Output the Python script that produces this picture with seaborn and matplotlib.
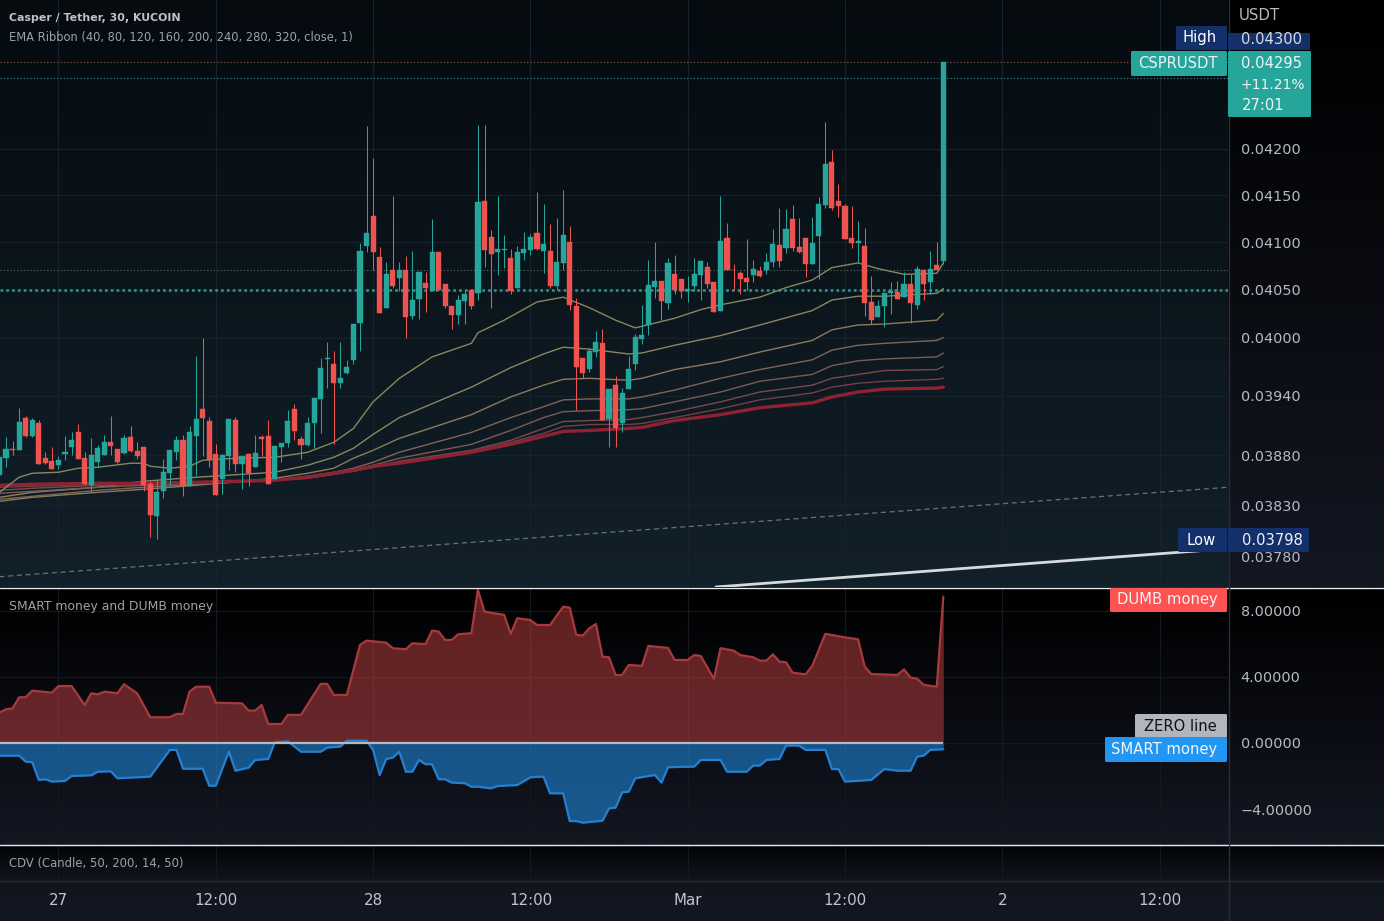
import numpy as np
import matplotlib
matplotlib.use("Agg")
import matplotlib.pyplot as plt
from matplotlib.patches import FancyBboxPatch
from matplotlib.ticker import NullFormatter, NullLocator
import seaborn as sns

W, H = 1384, 921
UNIT = 1e-5  # prices below are listed in units of 0.00001 USDT

OPEN = [3860,3877,3886,3885,3918,3899,3913,3877,3874,3870,
        3881,3888,3903,3877,3850,3873,3880,3893,3886,3882,
        3898,3884,3888,3851,3820,3844,3862,3883,3895,3849,
        3899,3927,3915,3881,3856,3879,3916,3871,3881,3868,
        3898,3899,3856,3888,3892,3927,3896,3890,3913,3937,
        3978,3973,3953,3963,3977,4015,4096,4128,4084,4031,
        4071,4062,4070,4022,4040,4057,4048,4090,4056,4033,
        4023,4038,4050,4046,4144,4105,4090,4092,4083,4052,
        4088,4092,4110,4091,4091,4054,4078,4100,4033,3979,
        3968,3985,3994,3917,3951,3913,3947,3973,3998,4013,
        4053,4059,4036,4066,4061,4048,4054,4065,4074,4058,
        4028,4104,4071,4067,4062,4065,4069,4071,4079,4097,
        4094,4125,4095,4104,4077,4106,4140,4186,4144,4138,
        4104,4099,4096,4037,4021,4033,4046,4047,4042,4056,
        4034,4071,4058,4076,4080]
HIGH = [3878,3898,3894,3928,3920,3918,3916,3883,3888,3879,
        3899,3903,3912,3883,3897,3890,3900,3920,3886,3900,
        3909,3893,3888,3854,3855,3876,3885,3899,3900,3909,
        3981,4000,3919,3891,3881,3917,3919,3879,3882,3900,
        3900,3916,3889,3892,3926,3932,3899,3919,3938,3979,
        3995,3986,3995,3977,4014,4099,4225,4190,4095,4079,
        4149,4079,4085,4091,4068,4068,4125,4090,4056,4033,
        4044,4050,4051,4226,4226,4113,4149,4107,4093,4096,
        4111,4109,4154,4141,4119,4126,4156,4117,4041,3979,
        3989,4007,4009,3947,3960,3948,3981,4004,4034,4081,
        4100,4059,4083,4086,4061,4064,4083,4080,4079,4058,
        4149,4120,4077,4069,4103,4081,4075,4088,4114,4136,
        4135,4140,4126,4104,4127,4148,4229,4199,4162,4141,
        4138,4122,4115,4064,4039,4046,4058,4059,4068,4066,
        4075,4072,4091,4100,4296]
LOW = [3860,3868,3880,3885,3898,3898,3871,3871,3866,3866,
       3875,3880,3876,3850,3843,3868,3880,3880,3872,3881,
       3883,3876,3844,3799,3797,3837,3850,3875,3839,3849,
       3860,3879,3868,3840,3841,3865,3863,3846,3849,3868,
       3879,3851,3856,3873,3888,3895,3876,3889,3887,3902,
       3948,3891,3948,3962,3973,3986,4090,4070,4025,4031,
       4052,4048,4000,4019,4019,4027,4048,4050,4031,4009,
       4014,4014,4030,4039,4074,4031,4065,4073,4045,4052,
       4081,4086,4092,4067,4052,4050,4071,4029,3926,3958,
       3964,3980,3916,3888,3888,3903,3947,3967,3993,4003,
       4041,4018,4030,4045,4041,4037,4048,4039,4052,4027,
       4028,4071,4049,4045,4050,4058,4063,4066,4074,4074,
       4088,4091,4088,4063,4077,4061,4136,4134,4127,4103,
       4094,4078,4022,4014,4021,4011,4024,4040,4042,4015,
       4030,4039,4045,4071,4077]
CLOSE = [3878,3886,3885,3914,3899,3916,3871,3872,3866,3875,
         3883,3895,3876,3851,3880,3887,3893,3889,3873,3897,
         3884,3879,3850,3821,3843,3863,3885,3895,3849,3903,
         3917,3918,3875,3840,3880,3917,3871,3879,3862,3882,
         3896,3851,3889,3892,3915,3904,3890,3913,3938,3969,
         3979,3953,3958,3970,4014,4091,4110,4090,4025,4066,
         4054,4070,4021,4039,4068,4052,4090,4050,4033,4023,
         4039,4045,4033,4143,4092,4087,4093,4093,4048,4089,
         4093,4105,4093,4098,4054,4079,4108,4034,3970,3963,
         3986,3995,3916,3947,3907,3943,3968,4001,4003,4055,
         4059,4038,4078,4050,4048,4051,4066,4080,4056,4027,
         4101,4071,4070,4061,4058,4072,4064,4079,4098,4080,
         4114,4094,4089,4077,4099,4141,4184,4136,4138,4103,
         4099,4101,4036,4018,4033,4046,4048,4040,4056,4036,
         4072,4056,4072,4071,4295]

EMA40_BARS = [0,2,3,5,9,12,15,20,22,23,26,29,31,36,42,47,51,54,57,61,66,72,73,77,82,86,90,94,97,103,107,110,116,120,124,127,131,134,138,143,144]
EMA40 = [3843,3853,3858,3862,3863,3867,3868,3872,3872,3869,3867,3869,3875,3877,3878,3883,3893,3907,3934,3958,3980,3994,4005,4018,4037,4042,4031,4018,4010,4020,4029,4034,4042,4052,4060,4073,4078,4072,4066,4067,4078]

RIBBON_BARS = [0,5,15,22,30,42,47,51,54,57,61,72,78,83,86,90,96,98,103,110,116,124,127,131,135,143,144]
EMA80 = [3838,3843,3848,3854,3858,3863,3870,3878,3887,3901,3918,3949,3969,3983,3990,3988,3983,3984,3992,4002,4013,4028,4039,4043,4043,4046,4051]
EMA120 = [3834,3838,3843,3846,3850,3857,3862,3867,3877,3885,3897,3921,3939,3951,3957,3958,3956,3958,3967,3975,3985,3997,4008,4013,4014,4018,4025]
EMA160 = [3836,3839,3845,3848,3851,3855,3859,3863,3867,3873,3883,3903,3918,3929,3936,3937,3937,3939,3946,3958,3967,3977,3987,3992,3994,3997,4000]
EMA200 = [3842,3844,3848,3850,3852,3855,3858,3862,3865,3870,3877,3891,3905,3918,3924,3925,3926,3927,3934,3944,3955,3962,3971,3976,3978,3980,3984]
EMA240 = [3845,3847,3850,3851,3852,3855,3857,3861,3864,3868,3874,3885,3895,3907,3914,3915,3916,3918,3924,3934,3944,3951,3958,3962,3966,3967,3970]
EMA280 = [3848,3849,3851,3852,3853,3855,3857,3861,3864,3868,3873,3884,3893,3902,3909,3911,3911,3912,3918,3927,3936,3943,3949,3953,3955,3957,3958]
EMA320 = [3850,3851,3852,3852,3853,3855,3858,3862,3865,3869,3872,3883,3891,3899,3904,3905,3907,3908,3915,3921,3928,3933,3939,3944,3947,3948,3949]

DUMB_BARS = [0,1,2,3,4,5,8,9,11,13,14,15,16,18,19,21,23,26,27,28,29,30,32,33,37,38,39,40,41,43,44,46,49,50,51,53,55,56,59,60,62,63,65,66,67,68,69,70,72,73,74,77,78,79,81,82,84,86,87,88,89,90,91,92,93,94,95,96,98,99,102,103,105,106,107,109,110,112,113,115,116,117,118,119,120,121,123,124,126,129,131,132,133,137,138,139,140,141,143,144]
DUMB = [1.84,2.04,2.10,2.77,2.77,3.17,3.05,3.45,3.45,2.30,3.01,2.95,3.11,3.01,3.56,3.01,1.56,1.56,1.76,1.76,3.11,3.41,3.41,2.44,2.40,1.96,1.96,2.30,1.15,1.15,1.70,1.70,3.58,3.58,2.91,2.91,5.94,6.20,6.08,5.74,5.68,6.04,5.99,6.81,6.75,6.24,6.24,6.59,6.65,9.27,7.96,7.76,6.61,7.56,7.45,7.15,7.15,8.26,8.20,6.55,6.51,6.95,7.21,5.23,5.19,4.12,4.12,4.73,4.67,5.88,5.76,5.03,5.03,5.33,5.27,3.88,5.74,5.60,5.33,5.19,4.99,4.99,5.37,4.93,4.89,4.26,4.16,4.67,6.61,6.40,6.28,4.63,4.18,4.12,4.46,3.96,3.90,3.52,3.41,8.87]

SMART_BARS = [0,3,4,5,6,7,8,10,11,14,15,17,18,23,26,27,28,31,32,33,35,36,38,39,41,42,44,46,49,50,52,53,56,57,58,59,60,61,62,63,64,65,66,67,68,69,71,72,73,75,76,79,81,83,84,86,87,88,89,92,93,94,95,96,97,100,101,102,106,107,110,111,114,115,116,117,119,120,122,123,126,127,128,129,133,135,137,139,140,141,142,144]
SMART = [-0.77,-0.77,-1.13,-1.17,-2.24,-2.20,-2.34,-2.30,-2.00,-1.96,-1.74,-1.72,-2.14,-2.04,-0.42,-0.42,-1.56,-1.56,-2.59,-2.59,-0.53,-1.68,-1.50,-1.03,-0.97,0.04,0.10,-0.53,-0.53,-0.28,-0.22,0.14,0.14,-0.42,-1.94,-0.97,-0.89,-0.53,-1.74,-1.74,-1.03,-1.29,-1.29,-2.20,-2.20,-2.40,-2.44,-2.65,-2.65,-2.75,-2.61,-2.55,-2.08,-2.04,-3.05,-3.05,-4.73,-4.73,-4.83,-4.71,-3.96,-3.92,-2.99,-2.95,-2.14,-1.94,-2.40,-1.47,-1.43,-1.03,-1.03,-1.74,-1.74,-1.37,-1.37,-1.03,-0.97,-0.16,-0.16,-0.42,-0.42,-1.58,-1.58,-2.34,-2.24,-1.58,-1.68,-1.68,-0.83,-0.77,-0.42,-0.38]

PRICE_TICKS = [0.04200,0.04150,0.04100,0.04050,0.04000,0.03940,0.03880,0.03830,0.03780]
MONEY_TICKS = [8,4,0,-4]
MONEY_LABELS = ["8.00000","4.00000","0.00000","\u22124.00000"]
TIME_BARS = [9,33,57,81,105,129,153,177]
TIME_LABELS = ["27","12:00","28","12:00","Mar","12:00","2","12:00"]
LAST_PRICE = 0.04295
HIGH_PRICE = 0.04300
LOW_PRICE = 0.03798
OPEN_LEVEL = 0.04050
PREV_LEVEL = 0.04070
BID_LEVEL = 0.04278
TREND_DASH_BARS, TREND_DASH = [0, 187.4], [0.03760, 0.03848]
TREND_SOLID_BARS, TREND_SOLID = [109.3, 184.5], [0.03750, 0.03786]

RIBBON_COLORS = ["#87875f","#8b865f","#8b7b5b","#806457","#7d5a54","#764b4a","#734043","#8e2233"]

sns.set_theme(style="dark", rc={"font.family": ["DejaVu Sans"], "axes.edgecolor": "none",
                                "axes.facecolor": "none", "figure.facecolor": "#000000"})
GRID = "#17222a"
GRID2 = "#15191f"
TXT = "#b7bac2"
fig = plt.figure(figsize=(W/100, H/100), dpi=100)

def pane(y0, y1, x0=0, x1=1228, **kw):
    return fig.add_axes([x0/W, 1-y1/H, (x1-x0)/W, (y1-y0)/H], **kw)

# background gradients
bg = fig.add_axes([0, 0, 1, 1], zorder=0)
bg.set_xlim(0, W); bg.set_ylim(H, 0); bg.axis("off")
def grad(x0, x1, y0, y1, c0, c1):
    c0 = matplotlib.colors.to_rgb(c0); c1 = matplotlib.colors.to_rgb(c1)
    t = np.linspace(0, 1, 64)[:, None, None]
    img = (1-t)*np.array(c0)[None, None, :] + t*np.array(c1)[None, None, :]
    bg.imshow(img, extent=(x0, x1, y1, y0), aspect="auto", interpolation="bilinear")
grad(0, 1228, 0, 587, "#050b0f", "#12202a")
grad(1228, W, 0, 587, "#000000", "#131722")
grad(0, W, 588, 845, "#000000", "#131722")
grad(0, W, 845, 881, "#030406", "#11151c")
grad(0, W, 881, H, "#11151d", "#131722")
bg.set_xlim(0, W); bg.set_ylim(H, 0)

bars = np.arange(len(OPEN))
op, hi, lo, cl = [np.array(a)*UNIT for a in (OPEN, HIGH, LOW, CLOSE)]
up = cl >= op
colors = np.where(up, "#26a69a", "#ef5350")

xlim = (0.08, 187.43)
ax = pane(0, 587, zorder=2)
ax.set_xlim(*xlim)
ax.set_yscale("log")
ax.set_ylim(0.03750, 0.04365)
ax.yaxis.set_minor_locator(NullLocator()); ax.yaxis.set_minor_formatter(NullFormatter())
ax.set_yticks(PRICE_TICKS)
ax.set_yticklabels([f"{t:.5f}" for t in PRICE_TICKS], fontsize=10.4, color=TXT)
ax.yaxis.tick_right()
ax.tick_params(axis="y", length=0, pad=9)
ax.set_xticks(TIME_BARS); ax.set_xticklabels([])
ax.tick_params(axis="x", length=0)
ax.grid(True, color=GRID, lw=.8, zorder=0)
ax.set_axisbelow(True)

ax.axhline(OPEN_LEVEL, color="#23998e", lw=1.9, ls=(0, (1, 1.2)), zorder=1)
ax.axhline(PREV_LEVEL, color="#5b6b70", lw=.8, ls=(0, (1, 2)), zorder=1)
ax.axhline(LAST_PRICE, color="#8a5a50", lw=.8, ls=(0, (1, 2)), zorder=1)
ax.axhline(BID_LEVEL, color="#3e8fa0", lw=.8, ls=(0, (1, 2)), zorder=1)
sns.lineplot(x=TREND_DASH_BARS, y=TREND_DASH, ax=ax, color="#6a7278", lw=.9, ls=(0, (4, 3)), errorbar=None, zorder=1)
sns.lineplot(x=TREND_SOLID_BARS, y=TREND_SOLID, ax=ax, color="#d4dadd", lw=2, errorbar=None, zorder=2)

for vals, c, lw in zip([EMA80, EMA120, EMA160, EMA200, EMA240, EMA280, EMA320], RIBBON_COLORS[1:],
                       [1, 1, 1, 1, 1, 1, 2.4]):
    sns.lineplot(x=RIBBON_BARS, y=np.array(vals)*UNIT, ax=ax, color=c, lw=lw, errorbar=None, zorder=2.5)
sns.lineplot(x=EMA40_BARS, y=np.array(EMA40)*UNIT, ax=ax, color=RIBBON_COLORS[0], lw=1, errorbar=None, zorder=2.5)

wicks = ax.vlines(bars, lo, hi, colors=colors, lw=.75, zorder=3)
wicks.set_snap(True)
ax.bar(bars, np.abs(cl-op), bottom=np.minimum(op, cl), width=.78, color=colors,
       edgecolor=colors, lw=.3, zorder=4)
ax.set_xlim(*xlim); ax.set_ylim(0.03750, 0.04365)
ax.set_xlabel(""); ax.set_ylabel("")

# money pane
ax2 = pane(588, 845, zorder=2)
ax2.set_xlim(*xlim)
ax2.set_ylim(-6.18, 9.39)
ax2.set_yticks(MONEY_TICKS); ax2.set_yticklabels(MONEY_LABELS, fontsize=10.4, color=TXT)
ax2.yaxis.tick_right()
ax2.tick_params(axis="y", length=0, pad=9)
ax2.set_xticks(TIME_BARS); ax2.set_xticklabels([])
ax2.tick_params(axis="x", length=0)
ax2.grid(True, color=GRID2, lw=.8, zorder=0)
ax2.set_axisbelow(True)
ax2.fill_between(DUMB_BARS, DUMB, 0, color="#ff5252", alpha=.38, lw=0, zorder=2)
ax2.fill_between(SMART_BARS, SMART, 0, color="#2196f3", alpha=.52, lw=0, zorder=2)
sns.lineplot(x=DUMB_BARS, y=DUMB, ax=ax2, color="#a83a3c", lw=1.6, errorbar=None, zorder=3)
sns.lineplot(x=SMART_BARS, y=SMART, ax=ax2, color="#2580d0", lw=1.6, errorbar=None, zorder=3)
ax2.hlines(0, xlim[0], bars[-1], color="#b4b6c0", lw=1.6, zorder=4)
ax2.set_xlim(*xlim); ax2.set_ylim(-6.18, 9.39)
ax2.set_xlabel(""); ax2.set_ylabel("")

# CDV pane and time axis
ax3 = pane(846, 881, zorder=2)
ax3.set_xlim(*xlim); ax3.set_ylim(0, 1)
ax3.set_yticks([])
ax3.set_xticks(TIME_BARS)
ax3.set_xticklabels(TIME_LABELS, fontsize=10.8, color="#c2c5cc")
ax3.tick_params(axis="x", length=0, pad=8.5)
ax3.grid(True, axis="x", color=GRID2, lw=.8)
ax3.set_axisbelow(True)

# overlay in figure pixels
ov = fig.add_axes([0, 0, 1, 1], zorder=5)
ov.set_xlim(0, W); ov.set_ylim(H, 0); ov.axis("off")
ov.patch.set_alpha(0)
ov.plot([0, W], [587.5, 587.5], color="#e8eaee", lw=1)
ov.plot([0, W], [845, 845], color="#e8eaee", lw=1)
ov.plot([0, W], [881, 881], color="#262a33", lw=1)
ov.plot([1228.5, 1228.5], [0, H], color="#2a2e39", lw=1)

def box(x0, x1, y0, y1, c):
    ov.add_patch(FancyBboxPatch((x0+1, y0+1), x1-x0-2, y1-y0-2, boxstyle="round,pad=1,rounding_size=1.5",
                                fc=c, ec="none", zorder=6))
def label(x, y, s, c="#ffffff", size=10.6, ha="center", **kw):
    ov.text(x, y, s, color=c, fontsize=size, ha=ha, va="center", zorder=7, **kw)

NAVY = "#14306a"
TEAL = "#26a69a"
box(1176, 1227, 26, 50, NAVY); label(1200, 37.5, "High")
box(1228, 1310, 33, 50, NAVY); label(1272, 39, f"{HIGH_PRICE:.5f}", c="#d8dbe2")
label(1259, 16, "USDT", c=TXT, size=10.8)
box(1131, 1227, 51, 76, TEAL); label(1178, 64, "CSPRUSDT", c="#f0f3f5")
box(1228, 1311, 51, 117, TEAL)
label(1272, 63, f"{LAST_PRICE:.5f}", c="#f0f3f5")
label(1273, 85, "+11.21%", c="#f0f3f5", size=10.0)
label(1242, 105, "27:01", c="#f0f3f5", ha="left")
box(1178, 1227, 528, 552, NAVY); label(1201, 540, "Low")
box(1228, 1309, 528, 552, NAVY); label(1272, 540, f"{LOW_PRICE:.5f}", c="#f0f3f5")
box(1110, 1227, 588, 612, "#ff5252"); label(1167.5, 599.5, "DUMB money", c="#f4f4f4")
box(1135, 1227, 714, 738, "#b2b5be"); label(1180, 726, "ZERO line", c="#111111")
box(1105, 1227, 737, 762, "#2196f3"); label(1164.5, 749, "SMART money", c="#f4f6f8")

label(9, 18, "Casper / Tether, 30, KUCOIN", c="#bfc2c9", size=7.95, ha="left", fontweight="bold")
label(9, 37, "EMA Ribbon (40, 80, 120, 160, 200, 240, 280, 320, close, 1)", c="#9da1a9", size=8.3, ha="left")
label(9, 606, "SMART money and DUMB money", c="#9da1a9", size=8.9, ha="left")
label(9, 863, "CDV (Candle, 50, 200, 14, 50)", c="#9da1a9", size=8.4, ha="left")

fig.savefig("out.png", dpi=100, facecolor="#000000")
